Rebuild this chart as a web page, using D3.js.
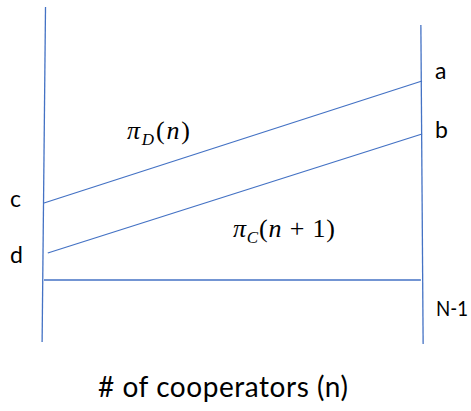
<!DOCTYPE html>
<html>
<head>
<meta charset="utf-8">
<script src="https://cdn.jsdelivr.net/npm/d3@7"></script>
<style>
  body { margin: 0; background: #fff; }
  text { fill: #000; }
</style>
</head>
<body>
<div id="vis"></div>
<script>
'use strict';

// n runs from 0 to N-1 (x units), payoffs in arbitrary y units
const xEnds = [0, 10];                 // n = 0 and n = N-1
const piD = [3.85, 9.95];              // pi_D(n): c -> a
const piC = [1.35, 7.3];               // pi_C(n+1): d -> b
const piCStart = 0.1;                  // pi_C line starts a bit right of the axis
const baseValue = 0;                   // horizontal line
const leftAxis = [[0.04, 13.65], [-0.05, -3.1]];
const rightAxis = [[9.97, 12.75], [10.03, -3.2]];
const baseEnds = [0, 9.97];
const endLabels = ["c", "d", "a", "b", "N-1"];
const xLabel = "# of cooperators (n)";

var svg = d3.select('#vis')
    .append('svg')
    .attr('width', 471)
    .attr('height', 411);

// scales: 0..10 across the plot, 0..10 payoff units upward
var x = d3.scaleLinear().domain([0, 10]).range([44, 422]);
var y = d3.scaleLinear().domain([0, 10]).range([280, 80]);

var line = d3.line()
    .x(function(d) { return x(d[0]); })
    .y(function(d) { return y(d[1]); });

var blue = '#4472c4';

function drawLine(points) {
  svg.append('path')
    .attr('d', line(points))
    .attr('fill', 'none')
    .attr('stroke', blue)
    .attr('stroke-width', 1.3);
}

// the two axes (hand drawn, slightly tilted)
drawLine(leftAxis);
drawLine(rightAxis);

// payoff lines
drawLine([[xEnds[0], piD[0]], [xEnds[1], piD[1]]]);
drawLine([[piCStart, piC[0]], [xEnds[1], piC[1]]]);
drawLine([[baseEnds[0], baseValue], [baseEnds[1], baseValue]]);

// labels at the line ends
var labelFont = 'Lato, "Open Sans", sans-serif';
function endLabel(txt, px, py, size) {
  return svg.append('text')
    .attr('x', px).attr('y', py)
    .style('font-family', labelFont)
    .style('font-size', (size || 23) + 'px')
    .text(txt);
}
endLabel(endLabels[0], 10, y(piD[0]) + 4);
endLabel(endLabels[1], 10, y(piC[0]) + 10);
endLabel(endLabels[2], 435, y(piD[1]) - 2);
endLabel(endLabels[3], 435, y(piC[1]) + 4);
endLabel(endLabels[4], 436, y(baseValue) + 36, 21)
  .attr('textLength', 32)
  .attr('lengthAdjust', 'spacingAndGlyphs');

// math labels
function mathLabel(px, py, sub, arg, len) {
  var t = svg.append('text')
    .attr('x', px).attr('y', py)
    .attr('textLength', len)
    .attr('lengthAdjust', 'spacing')
    .style('font-family', '"Liberation Serif", "DejaVu Serif", serif')
    .style('font-size', '26px');
  t.append('tspan').style('font-style', 'italic').text('\u03c0');
  t.append('tspan').attr('dy', 6).style('font-style', 'italic')
    .style('font-size', '17px').text(sub);
  t.append('tspan').attr('dy', -6).text('(');
  arg.forEach(function(a) {
    t.append('tspan').style('font-style', a.italic ? 'italic' : 'normal').text(a.s);
  });
  t.append('tspan').text(')');
}
mathLabel(127, 139, 'D', [{s: 'n', italic: true}], 63);
mathLabel(233, 237, 'C', [{s: 'n', italic: true}, {s: ' + 1', italic: false}], 102);

// x axis title
svg.append('text')
  .attr('x', 223).attr('y', 397)
  .attr('text-anchor', 'middle')
  .attr('textLength', 250)
  .attr('lengthAdjust', 'spacing')
  .style('font-family', labelFont)
  .style('font-size', '28px')
  .text(xLabel);
</script>
</body>
</html>
